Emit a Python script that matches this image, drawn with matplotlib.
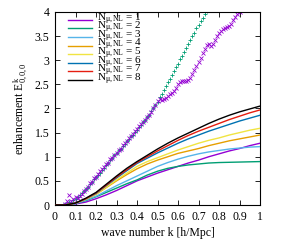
import matplotlib
matplotlib.use("Agg")
import matplotlib.pyplot as plt

plt.rcParams['font.family'] = ['Liberation Serif', 'DejaVu Serif']
plt.rcParams['mathtext.fontset'] = 'custom'
plt.rcParams['mathtext.rm'] = 'Liberation Serif'
plt.rcParams['mathtext.it'] = 'Liberation Serif:italic'

# model curves, N_mu,NL = 1..8
k_line = [0.0, 0.05, 0.1, 0.15, 0.2, 0.25, 0.3, 0.35, 0.4, 0.45, 0.5,
          0.55, 0.6, 0.65, 0.7, 0.75, 0.8, 0.85, 0.9, 0.95, 1.0]
n1 = [0, 0.0, 0.02, 0.06, 0.13, 0.21, 0.30, 0.40, 0.50, 0.58, 0.66,
      0.73, 0.80, 0.87, 0.93, 1.00, 1.06, 1.12, 1.17, 1.23, 1.28]
n2 = [0, 0.0, 0.03, 0.09, 0.17, 0.26, 0.35, 0.44, 0.52, 0.62, 0.70,
      0.76, 0.80, 0.83, 0.85, 0.87, 0.88, 0.885, 0.89, 0.895, 0.90]
n3 = [0, 0.0, 0.03, 0.10, 0.18, 0.29, 0.40, 0.50, 0.60, 0.70, 0.80,
      0.88, 0.95, 1.01, 1.06, 1.10, 1.13, 1.16, 1.18, 1.20, 1.21]
n4 = [0, 0.0, 0.04, 0.12, 0.22, 0.36, 0.50, 0.63, 0.75, 0.85, 0.93,
      1.00, 1.07, 1.12, 1.17, 1.23, 1.28, 1.33, 1.37, 1.41, 1.45]
n5 = [0, 0.0, 0.04, 0.12, 0.23, 0.37, 0.52, 0.66, 0.80, 0.90, 0.98,
      1.06, 1.14, 1.21, 1.28, 1.34, 1.39, 1.45, 1.50, 1.55, 1.59]
n6 = [0, 0.0, 0.04, 0.13, 0.24, 0.40, 0.56, 0.71, 0.86, 0.97, 1.08,
      1.18, 1.28, 1.37, 1.45, 1.53, 1.60, 1.67, 1.74, 1.80, 1.86]
n7 = [0, 0.0, 0.04, 0.13, 0.25, 0.41, 0.58, 0.73, 0.88, 1.00, 1.12,
      1.23, 1.34, 1.44, 1.53, 1.61, 1.69, 1.77, 1.84, 1.91, 1.97]
n8 = [0, 0.0, 0.04, 0.14, 0.26, 0.43, 0.60, 0.76, 0.90, 1.03, 1.16,
      1.28, 1.39, 1.49, 1.59, 1.69, 1.78, 1.86, 1.93, 1.99, 2.05]
curves = [n1, n2, n3, n4, n5, n6, n7, n8]
labels = ['1', '2', '3', '4', '5', '6', '7', '8']
colors = ['#9400d3', '#009e73', '#56b4e9', '#e69f00',
          '#f0e442', '#0072b2', '#e51e10', '#000000']

# measured points
k_green = [0.04, 0.05, 0.06, 0.07, 0.08, 0.09, 0.10, 0.11, 0.12, 0.13,
           0.14, 0.15, 0.16, 0.17, 0.18, 0.19, 0.20, 0.21, 0.22, 0.23,
           0.24, 0.25, 0.26, 0.27, 0.28, 0.29, 0.30, 0.31, 0.32, 0.33,
           0.34, 0.35, 0.36, 0.37, 0.38, 0.39, 0.40, 0.41, 0.42, 0.43,
           0.44, 0.45, 0.46, 0.47, 0.48, 0.49, 0.50, 0.51, 0.52, 0.53,
           0.54, 0.55, 0.56, 0.57, 0.58, 0.59, 0.60, 0.61, 0.62, 0.63,
           0.64, 0.65, 0.66, 0.67, 0.68, 0.69, 0.70, 0.71, 0.72, 0.73, 0.74]
e_green = [0.00, 0.02, 0.03, 0.06, 0.07, 0.11, 0.13, 0.17, 0.20, 0.25,
           0.28, 0.34, 0.37, 0.43, 0.47, 0.53, 0.57, 0.63, 0.67, 0.73,
           0.77, 0.83, 0.87, 0.93, 0.97, 1.03, 1.07, 1.13, 1.16, 1.22,
           1.26, 1.32, 1.36, 1.42, 1.46, 1.52, 1.56, 1.62, 1.66, 1.72,
           1.76, 1.82, 1.87, 1.94, 2.00, 2.08, 2.14, 2.23, 2.30, 2.39,
           2.46, 2.55, 2.62, 2.70, 2.77, 2.86, 2.93, 3.02, 3.09, 3.18,
           3.25, 3.34, 3.41, 3.50, 3.57, 3.66, 3.73, 3.82, 3.88, 3.96, 4.03]

k_purple = [0.05, 0.06, 0.07, 0.08, 0.09, 0.10, 0.11, 0.12, 0.13, 0.14,
            0.15, 0.16, 0.17, 0.18, 0.19, 0.20, 0.21, 0.22, 0.23, 0.24,
            0.25, 0.26, 0.27, 0.28, 0.29, 0.30, 0.31, 0.32, 0.33, 0.34,
            0.35, 0.36, 0.37, 0.38, 0.39, 0.40, 0.41, 0.42, 0.43, 0.44,
            0.45, 0.46, 0.47, 0.48, 0.49, 0.50, 0.51, 0.52, 0.53, 0.54,
            0.55, 0.56, 0.57, 0.58, 0.59, 0.60, 0.61, 0.62, 0.63, 0.64,
            0.65, 0.66, 0.67, 0.68, 0.69, 0.70, 0.71, 0.72, 0.73, 0.74,
            0.75, 0.76, 0.77, 0.78, 0.79, 0.80, 0.81, 0.82, 0.83, 0.84,
            0.85, 0.86, 0.87, 0.88, 0.89, 0.90]
e_purple = [0.03, 0.08, 0.21, 0.09, 0.12, 0.16, 0.14, 0.19, 0.22, 0.30,
            0.33, 0.38, 0.45, 0.48, 0.55, 0.58, 0.65, 0.70, 0.74, 0.79,
            0.85, 0.88, 0.95, 0.98, 1.04, 1.08, 1.14, 1.17, 1.24, 1.28,
            1.33, 1.38, 1.44, 1.47, 1.53, 1.57, 1.63, 1.67, 1.72, 1.76,
            1.82, 1.87, 1.93, 2.00, 2.08, 2.15, 2.19, 2.18, 2.20, 2.21,
            2.26, 2.30, 2.33, 2.37, 2.42, 2.50, 2.55, 2.56, 2.57, 2.58,
            2.60, 2.64, 2.72, 2.80, 2.88, 2.96, 3.05, 3.14, 3.24, 3.31,
            3.33, 3.30, 3.34, 3.42, 3.50, 3.57, 3.61, 3.64, 3.66, 3.68,
            3.71, 3.76, 3.83, 3.90, 3.96, 4.00]

fig = plt.figure(figsize=(2.81, 2.41), dpi=100)
ax = fig.add_axes([55 / 281, 36 / 241, 205 / 281, 193 / 241])

ax.plot(k_green, e_green, '+', color='#009e73', markersize=3.5, mew=0.6, zorder=2)
ax.plot(k_purple, e_purple, 'x', color='#9400d3', markersize=3, mew=0.6, zorder=2)

for i, (c, col) in enumerate(zip(curves, colors)):
    ax.plot(k_line, c, color=col, linewidth=1.0, zorder=3)
    y = 0.959 - i * 0.0444
    ax.plot([0.062, 0.179], [y, y], color=col, linewidth=1.0, transform=ax.transAxes)
    ax.text(0.205, y + 0.004, r'N$_{\mathrm{\mu,NL}}$ = ' + labels[i], transform=ax.transAxes,
            fontsize=8, va='center', ha='left')

ax.set_xlim(0, 1)
ax.set_ylim(0, 4)
ax.set_xticks([0, 0.1, 0.2, 0.3, 0.4, 0.5, 0.6, 0.7, 0.8, 0.9, 1])
ax.set_xticklabels(['0', '0.1', '0.2', '0.3', '0.4', '0.5', '0.6', '0.7', '0.8', '0.9', '1'])
ax.set_yticks([0, 0.5, 1, 1.5, 2, 2.5, 3, 3.5, 4])
ax.set_yticklabels(['0', '0.5', '1', '1.5', '2', '2.5', '3', '3.5', '4'])
ax.tick_params(direction='in', top=True, right=True, length=3.5, width=0.6,
               labelsize=8.5, pad=4)
for s in ax.spines.values():
    s.set_linewidth(0.8)

ax.set_xlabel('wave number k [h/Mpc]', fontsize=8.5, labelpad=3)
ax.set_ylabel(r'enhancement E$^{\mathrm{k}}_{\mathrm{0,0,0}}$', fontsize=8.5, labelpad=4)

fig.savefig('out.png', dpi=100)
